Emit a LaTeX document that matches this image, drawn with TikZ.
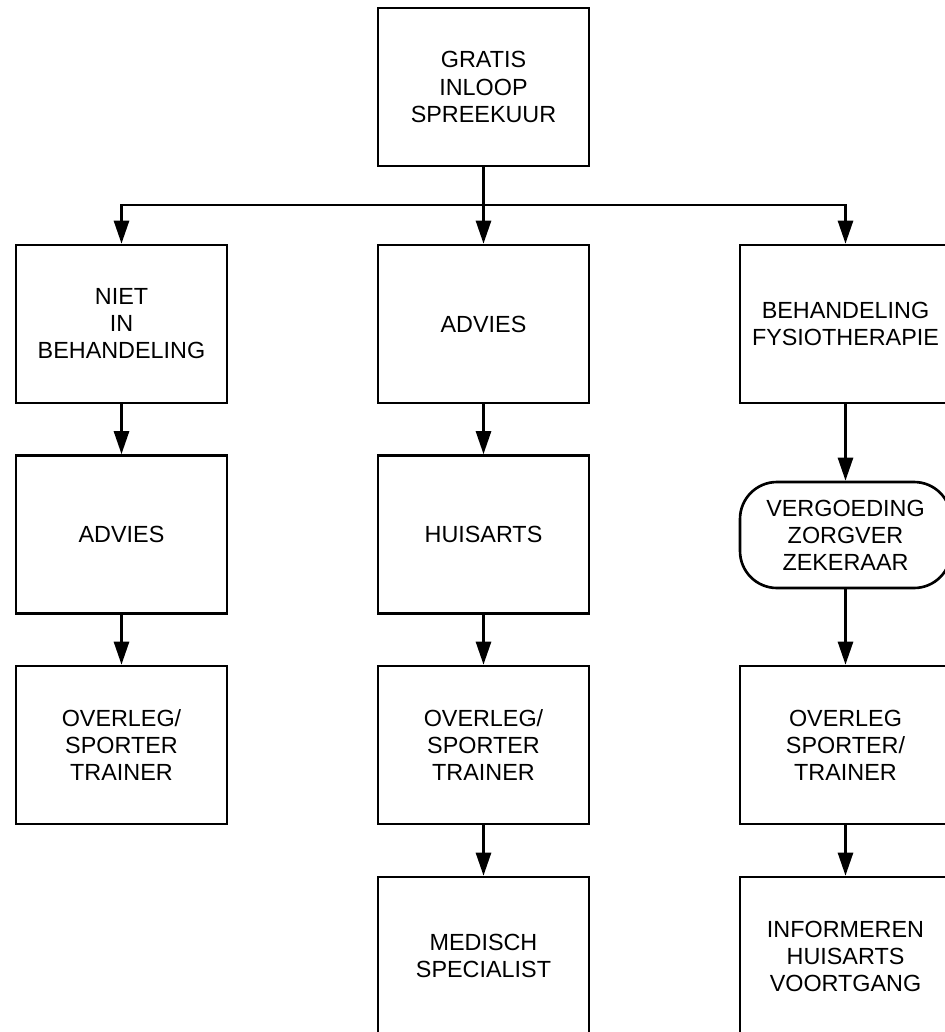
\documentclass[tikz,border=0pt]{standalone}
\usepackage{fontspec}
\setmainfont{Liberation Sans}
\usetikzlibrary{arrows.meta}

\newcommand{\pxscl}{0.02}
\newcommand{\px}[1]{#1*\pxscl}
\tikzset{
    box/.style={rectangle, draw, line width=1.5pt, inner sep=0pt,
        minimum width=4.22cm, minimum height=3.16cm, align=center,
        font=\fontsize{13.3}{15.4}\selectfont},
    roundbox/.style={box, rounded corners=21pt, minimum height=2.12cm},
    arr/.style={draw, line width=1.5pt, -{Triangle[length=0.46cm, width=0.3cm]}}
}
\newcommand{\bn}{\node[box]}
\newcommand{\rn}{\node[roundbox]}

\begin{document}
\begin{tikzpicture}
        \clip (0,0) rectangle (\px{945}, \px{-1032});

        \bn (n0) at (\px{483.5}, \px{-87}) {GRATIS\\INLOOP\\SPREEKUUR};
        \bn (n1) at (\px{121.5}, \px{-324}) {NIET\\IN\\BEHANDELING};
        \bn (n2) at (\px{483.5}, \px{-324}) {ADVIES};
        \bn (n3) at (\px{845.5}, \px{-324}) {BEHANDELING\\FYSIOTHERAPIE};
        \bn (n4) at (\px{121.5}, \px{-534.5}) {ADVIES};
        \bn (n5) at (\px{483.5}, \px{-534.5}) {HUISARTS};
        \rn (n6) at (\px{845.5}, \px{-535}) {VERGOEDING\\ZORGVER\\ZEKERAAR};
        \bn (n7) at (\px{121.5}, \px{-745}) {OVERLEG/\\SPORTER\\TRAINER};
        \bn (n8) at (\px{483.5}, \px{-745}) {OVERLEG/\\SPORTER\\TRAINER};
        \bn (n9) at (\px{845.5}, \px{-745}) {OVERLEG\\SPORTER/\\TRAINER};
        \bn (n10) at (\px{483.5}, \px{-956}) {MEDISCH\\SPECIALIST};
        \bn (n11) at (\px{845.5}, \px{-956}) {INFORMEREN\\HUISARTS\\VOORTGANG};

        \coordinate (split) at (\px{483.5}, \px{-205});

        \draw[arr] (split) -| (n1);
        \draw[arr] (split) -| (n3);

        \path
            (n0) edge[arr] (n2)
            (n1) edge[arr] (n4)
            (n4) edge[arr] (n7)
            (n2) edge[arr] (n5)
            (n5) edge[arr] (n8)
            (n8) edge[arr] (n10)
            (n3) edge[arr] (n6)
            (n6) edge[arr] (n9)
            (n9) edge[arr] (n11)
            ;
\end{tikzpicture}
\end{document}
